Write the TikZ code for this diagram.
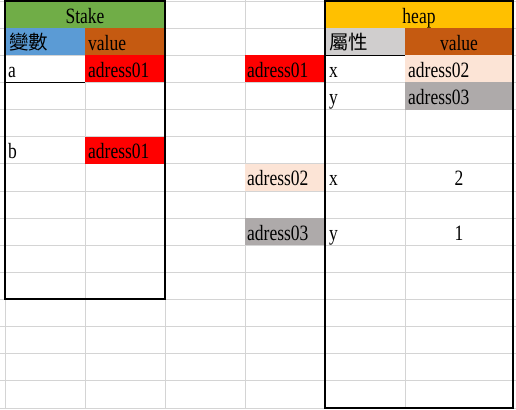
\documentclass[tikz,border=0pt]{standalone}
\usepackage{fontspec}
\setmainfont{Liberation Serif}
\newfontfamily\cjk{Noto Sans CJK TC}
\definecolor{gridc}{HTML}{D4D4D4}
\definecolor{cgreen}{HTML}{70AD47}
\definecolor{cblue}{HTML}{5B9BD5}
\definecolor{corange}{HTML}{C55A11}
\definecolor{cred}{HTML}{FF0000}
\definecolor{cyellow}{HTML}{FFC000}
\definecolor{clgray}{HTML}{D0CECE}
\definecolor{cpeach}{HTML}{FCE4D6}
\definecolor{cgray}{HTML}{AEAAAA}
\newcommand\tx[1]{\scalebox{1}[1.25]{#1}}
\begin{document}
\begin{tikzpicture}[x=1pt,y=-27.13pt,
  gridline/.style={draw=gridc,line width=0.8pt},
  boxline/.style={draw=black,line width=2pt},
  thinline/.style={draw=black,line width=1pt},
  lbl/.style={anchor=base west,inner sep=0pt,font=\fontsize{17.5}{18}\selectfont},
  ctr/.style={anchor=base,inner sep=0pt,font=\fontsize{17.5}{18}\selectfont},
  cjklbl/.style={anchor=base west,inner sep=0pt,font=\cjk\fontsize{19.5}{20}\selectfont}]
\useasboundingbox (0,-0.0369) rectangle (516,15.039);
\fill[white] (0,-0.0369) rectangle (516,15.039);
% grid
\foreach \i in {0,...,15} \draw[gridline] (0,\i) -- (516,\i);
\foreach \x in {5,85,165,245,325,405} \draw[gridline] (\x,-0.0369) -- (\x,15.039);
% fills
\fill[cgreen] (5,0) rectangle (165,1);
\fill[cblue] (5,1) rectangle (85,2);
\fill[corange] (85,1) rectangle (165,2);
\fill[cred] (85,2) rectangle (165,3);
\fill[cred] (85,5) rectangle (165,6);
\fill[cred] (245,2) rectangle (325,3);
\fill[cpeach] (245,6) rectangle (325,7);
\fill[cgray] (245,8) rectangle (325,9);
\fill[cyellow] (325,0) rectangle (513,1);
\fill[clgray] (325,1) rectangle (405,2);
\fill[corange] (405,1) rectangle (513,2);
\fill[cpeach] (405,2) rectangle (513,3);
\fill[cgray] (405,3) rectangle (513,4);
% borders
\draw[boxline] (5,0) rectangle (165,11);
\draw[boxline] (325,0) rectangle (513,15);
\draw[thinline] (5,3) -- (85,3);
\draw[thinline] (325,2) -- (405,2);
% texts
\node[ctr] (stake) at (85,0.816) {\tx{Stake}};
\node[ctr] (heap) at (419,0.816) {\tx{heap}};
\node[cjklbl] (var) at (9,1.78) {變數};
\node[lbl] (sval) at (88,1.816) {\tx{value}};
\node[cjklbl] (attr) at (329,1.78) {屬性};
\node[ctr] (hval) at (459,1.816) {\tx{value}};
\node[lbl] (a) at (8,2.816) {\tx{a}};
\node[lbl] (aval) at (88,2.816) {\tx{adress01}};
\node[lbl] (addr1) at (247,2.816) {\tx{adress01}};
\node[lbl] (hx) at (329,2.816) {\tx{x}};
\node[lbl] (hxv) at (408,2.816) {\tx{adress02}};
\node[lbl] (hy) at (329,3.816) {\tx{y}};
\node[lbl] (hyv) at (408,3.816) {\tx{adress03}};
\node[lbl] (b) at (8,5.816) {\tx{b}};
\node[lbl] (bval) at (88,5.816) {\tx{adress01}};
\node[lbl] (addr2) at (247,6.816) {\tx{adress02}};
\node[lbl] (x2) at (329,6.816) {\tx{x}};
\node[ctr] (x2v) at (459,6.816) {\tx{2}};
\node[lbl] (addr3) at (247,8.816) {\tx{adress03}};
\node[lbl] (y3) at (329,8.816) {\tx{y}};
\node[ctr] (y3v) at (459,8.816) {\tx{1}};
\end{tikzpicture}
\end{document}
